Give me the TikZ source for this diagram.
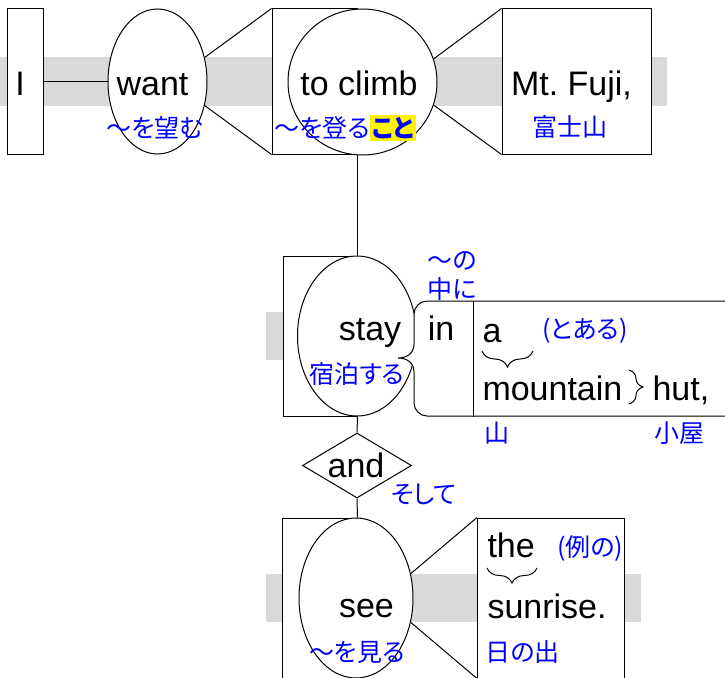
\documentclass[tikz,border=0pt]{standalone}
\usepackage{fontspec}
\setmainfont{Liberation Sans}
\newfontfamily\jp[RawFeature=+palt]{Noto Sans CJK JP}
\usepackage{tikz}
\usetikzlibrary{shapes.geometric,decorations.pathreplacing,positioning}
\def \gross {\fontsize{34}{38}\selectfont}
\def \klein {\jp\fontsize{25}{29}\selectfont}
\tikzset{
  kasten/.style={draw,fill=white,inner sep=0pt},
  oval/.style={draw,fill=white,ellipse,inner sep=0pt},
  raute/.style={draw,fill=white,diamond,inner sep=0pt},
  wort/.style={font=\gross,inner sep=0pt,anchor=base},
  glosse/.style={font=\klein,text=blue,inner sep=0pt},
  band/.style={fill=black!15},
  klammer/.style={decorate,decoration={brace,amplitude=#1}},
  klammer/.default=14pt,
  unterklammer/.style={decorate,decoration={brace,mirror,amplitude=#1}},
  unterklammer/.default=16pt,
}

\begin{document}
\begin{tikzpicture}[x=1pt,y=-1pt,line width=1pt]
  \useasboundingbox (0,0) rectangle (725,677);
  \fill[band] (0,57) rectangle (667,106);
  \fill[band] (266,312) rectangle (725,360);
  \fill[band] (266,574) rectangle (641,622);

  \node[kasten,minimum width=36pt,minimum height=145pt] (ichbox) at (25,81.5) {};
  \node[oval,minimum width=99pt,minimum height=145pt] (wollen) at (157.5,81.5) {};
  \node[kasten,minimum width=85pt,minimum height=145pt] (steigenbox) at (314.5,81.5) {};
  \node[oval,minimum width=149pt,minimum height=146pt] (steigen) at (362.5,82) {};
  \node[kasten,minimum width=149pt,minimum height=145pt] (fuji) at (576.5,81.5) {};

  \node[kasten,minimum width=74pt,minimum height=160pt] (bleibenbox) at (320,336) {};
  \node[oval,minimum width=119pt,minimum height=160pt] (bleiben) at (357,336) {};
  \node[minimum width=59pt,minimum height=115pt,inner sep=0pt] (inbox) at (443.5,358.5) {};
  \draw[fill=white] (735,416) -- (735,301) -- (427,301)
    .. controls (420,301) and (414,307) .. (414,314) -- (414,344)
    .. controls (414,354) and (406,358) .. (398,358)
    .. controls (406,358) and (414,362) .. (414,372) -- (414,403)
    .. controls (414,410) and (420,416) .. (427,416) -- cycle;
  \draw (inbox.north east) -- (inbox.south east);

  \node[raute,minimum width=109pt,minimum height=65pt] (und) at (357,465.5) {};
  \node[kasten,minimum width=75pt,minimum height=160pt] (sehenbox) at (319.5,598) {};
  \node[oval,minimum width=114pt,minimum height=160pt] (sehen) at (356,598) {};
  \node[kasten,minimum width=147pt,minimum height=160pt] (sonne) at (551,598) {};

  \draw (ichbox.east) -- (wollen.west);
  \draw (wollen.27) -- (steigenbox.north west) (wollen.-27) -- (steigenbox.south west);
  \draw (steigen.18) -- (fuji.north west) (steigen.-18) -- (fuji.south west);
  \draw (steigenbox.south east) -- (bleibenbox.north east);
  \draw (bleibenbox.south east) -- (und.north);
  \draw (und.south) -- (sehenbox.north east);
  \draw (sehen.24) -- (sonne.north west) (sehen.-24) -- (sonne.south west);

  \draw (20,95) node[wort] (ich) {I}
    (152.5,95) node[wort] (want) {want}
    (359,95) node[wort] (toclimb) {to climb}
    (571.5,95) node[wort] (mtfuji) {Mt.\ Fuji,};
  \draw (155,128) node[glosse] (nozomu) {〜を望む}
    (345.5,128) node[glosse] (noboru) {〜を登る{\fboxsep=2pt\colorbox{yellow}{\bfseries こと}}}
    (570,127) node[glosse] (fujisan) {富士山};

  \draw (370,340) node[wort] (stay) {stay}
    (441,340) node[wort] (in) {in}
    (482,342) node[wort,anchor=base west] (a) {a}
    (482,400) node[wort,anchor=base west] (mountain) {mountain}
    (652,400) node[wort,anchor=base west] (hut) {hut,};
  \draw (357,374) node[glosse] (shukuhaku) {宿泊する}
    (427,276) node[glosse,anchor=west,align=left] (nakani) {〜の\\中に}
    (585,331) node[glosse] (toaru) {(とある)}
    (497,433) node[glosse] (yama) {山}
    (679,433) node[glosse] (koya) {小屋};
  \draw[unterklammer] (482,351) -- (533,351);
  \draw[klammer] (629,370) -- (629,404);

  \draw (356,477) node[wort] (and) {and}
    (424,494) node[glosse] (soshite) {そして};
  \draw (366.5,617) node[wort] (see) {see}
    (487,557) node[wort,anchor=base west] (the) {the}
    (487,618) node[wort,anchor=base west] (sunrise) {sunrise.};
  \draw (357,652) node[glosse] (miru) {〜を見る}
    (590,548) node[glosse] (reino) {(例の)}
    (485,652) node[glosse,anchor=west] (hinode) {日の出};
  \draw[unterklammer=15pt] (487,568) -- (537,568);
\end{tikzpicture}
\end{document}
